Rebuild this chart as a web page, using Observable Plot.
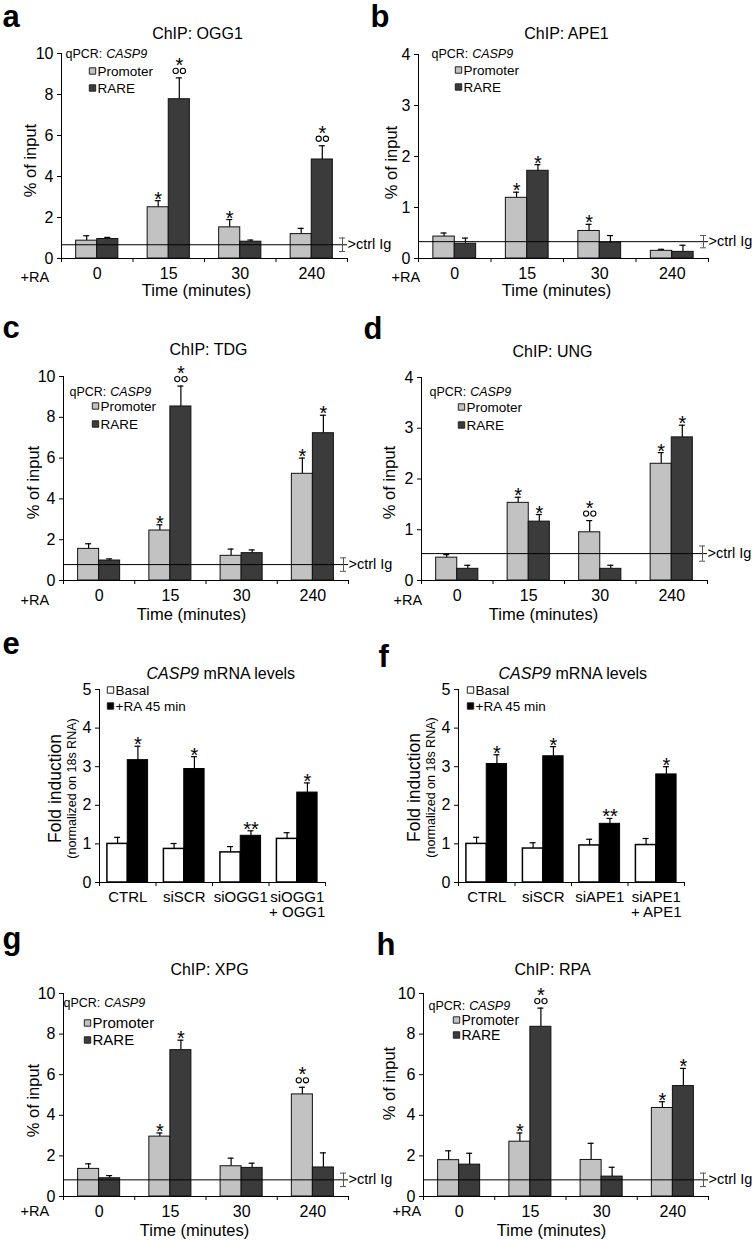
<!DOCTYPE html>
<html>
<head>
<meta charset="utf-8">
<script src="https://cdn.jsdelivr.net/npm/d3@7"></script>
<script src="https://cdn.jsdelivr.net/npm/@observablehq/plot@0.6"></script>
<style>
  html, body { margin: 0; padding: 0; background: #fff; }
  #fig { position: relative; width: 752px; height: 1240px; overflow: hidden; font-family: "Liberation Sans", Arial, sans-serif; }
  #fig svg { position: absolute; overflow: visible; }
  #fig svg g[aria-label^="x-axis"] text, #fig svg g[aria-label^="y-axis"] text { font-size: 16px; fill: black; }
  #fig svg.mrna g[aria-label^="x-axis"] text { font-size: 15px; }
</style>
</head>
<body>
<div id="fig"></div>
<script>
// ---------------- DATA ----------------
const chipGroups = ["0", "15", "30", "240"];

// a: ChIP OGG1
const oggPromoter = [0.87, 2.50, 1.52, 1.19];
const oggPromoterErr = [0.24, 0.32, 0.38, 0.28];
const oggRare = [0.95, 7.77, 0.82, 4.83];
const oggRareErr = [0.08, 1.04, 0.08, 0.67];
const oggPromoterSig = ["", "*", "*", ""];
const oggRareSig = ["", "*oo", "", "*oo"];
const oggCtrl = 0.67, oggCtrlErr = 0.33;

// b: ChIP APE1
const apePromoter = [0.43, 1.19, 0.54, 0.15];
const apePromoterErr = [0.07, 0.11, 0.13, 0.03];
const apeRare = [0.29, 1.72, 0.31, 0.13];
const apeRareErr = [0.11, 0.12, 0.14, 0.13];
const apePromoterSig = ["", "*", "*", ""];
const apeRareSig = ["", "*", "", ""];
const apeCtrl = 0.33, apeCtrlErr = 0.12;

// c: ChIP TDG
const tdgPromoter = [1.55, 2.45, 1.21, 5.23];
const tdgPromoterErr = [0.25, 0.28, 0.33, 0.77];
const tdgRare = [0.98, 8.53, 1.34, 7.22];
const tdgRareErr = [0.08, 1.00, 0.16, 0.88];
const tdgPromoterSig = ["", "*", "", "*"];
const tdgRareSig = ["", "*oo", "", "*"];
const tdgCtrl = 0.78, tdgCtrlErr = 0.33;

// d: ChIP UNG
const ungPromoter = [0.45, 1.53, 0.95, 2.30];
const ungPromoterErr = [0.06, 0.11, 0.23, 0.22];
const ungRare = [0.23, 1.16, 0.23, 2.82];
const ungRareErr = [0.07, 0.14, 0.07, 0.24];
const ungPromoterSig = ["", "*", "*oo", "*"];
const ungRareSig = ["", "*", "", "*"];
const ungCtrl = 0.53, ungCtrlErr = 0.15;

// e: CASP9 mRNA, OGG1 knockdown
const eGroups = ["CTRL", "siSCR", "siOGG1", "siOGG1\n+ OGG1"];
const eBasal = [1.00, 0.87, 0.78, 1.13];
const eBasalErr = [0.17, 0.14, 0.15, 0.16];
const eRA = [3.17, 2.94, 1.21, 2.33];
const eRAErr = [0.36, 0.32, 0.13, 0.25];
const eSig = ["*", "*", "**", "*"];

// f: CASP9 mRNA, APE1 knockdown
const fGroups = ["CTRL", "siSCR", "siAPE1", "siAPE1\n+ APE1"];
const fBasal = [1.00, 0.88, 0.96, 0.97];
const fBasalErr = [0.17, 0.15, 0.16, 0.17];
const fRA = [3.07, 3.27, 1.52, 2.80];
const fRAErr = [0.24, 0.25, 0.14, 0.20];
const fSig = ["*", "*", "**", "*"];

// g: ChIP XPG
const xpgPromoter = [1.36, 2.95, 1.49, 5.03];
const xpgPromoterErr = [0.25, 0.18, 0.40, 0.35];
const xpgRare = [0.90, 7.21, 1.41, 1.43];
const xpgRareErr = [0.13, 0.49, 0.23, 0.72];
const xpgPromoterSig = ["", "*", "", "*oo"];
const xpgRareSig = ["", "*", "", ""];
const xpgCtrl = 0.82, xpgCtrlErr = 0.33;

// h: ChIP RPA
const rpaPromoter = [1.79, 2.70, 1.80, 4.36];
const rpaPromoterErr = [0.46, 0.43, 0.82, 0.31];
const rpaRare = [1.57, 8.36, 0.98, 5.44];
const rpaRareErr = [0.56, 0.92, 0.46, 0.87];
const rpaPromoterSig = ["", "*", "", "*"];
const rpaRareSig = ["", "*oo", "", "*"];
const rpaCtrl = 0.82, rpaCtrlErr = 0.33;

// ---------------- STYLE ----------------
const FONT = "Liberation Sans, Arial, sans-serif";
const LIGHT = "#c2c2c2", DARK = "#3b3b3b";
const fig = document.getElementById("fig");

function prep(P) {
  P.ml = P.x0 - P.left;
  P.mt = P.yTop - P.top;
  return P;
}
// text at page coordinates, converted to frame offsets
function makeText(P, str, px, py, o = {}) {
  return Plot.text([str], {
    text: d => d, frameAnchor: "top-left",
    dx: px - P.left - P.ml, dy: py - P.top - P.mt,
    fontSize: 13, fill: "black", textAnchor: "start", lineAnchor: "bottom", ...o
  });
}
function makeSwatch(P, px, py, fill) {
  return Plot.dot([0], {
    frameAnchor: "top-left", dx: px - P.left - P.ml, dy: py - P.top - P.mt,
    symbol: "square", r: 3.6, fill, stroke: "#222", strokeWidth: 1
  });
}

function addPlot(P, marks, xFormat, yTicks, cls) {
  const width = 376, height = P.height;
  const plot = Plot.plot({
    width, height,
    marginLeft: P.ml, marginRight: width - (P.x1 - P.left),
    marginTop: P.mt, marginBottom: height - (P.y0 - P.top),
    style: {fontFamily: FONT, fontSize: "16px", color: "black", background: "transparent", overflow: "visible"},
    x: {type: "linear", domain: [0, 4], ticks: [0.5, 1.5, 2.5, 3.5], tickFormat: xFormat, tickSize: 0, tickPadding: 9, label: null, line: true},
    y: {domain: [0, P.ymax], ticks: yTicks, tickSize: 4, tickPadding: 4, label: null, line: true, tickFormat: d3.format("d")},
    marks
  });
  if (cls) plot.classList.add(cls);
  plot.style.left = P.left + "px";
  plot.style.top = P.top + "px";
  fig.appendChild(plot);
}

function chipPanel(P, D) {
  prep(P);
  const w = 0.295;
  const rows = chipGroups.map((g, i) => ({
    i, g,
    pv: D.promoter[i], pe: D.promoter[i] + D.promoterErr[i], ps: D.promoterSig[i],
    rv: D.rare[i], re: D.rare[i] + D.rareErr[i], rs: D.rareSig[i],
    pc: i + 0.5 - w / 2, rc: i + 0.5 + w / 2
  }));
  const sig = (xKey, topKey, sigKey) => {
    const oo = rows.filter(d => d[sigKey].includes("oo"));
    const st = rows.filter(d => !d[sigKey].includes("oo") && d[sigKey].includes("*"));
    return [
      Plot.dot(oo, {x: xKey, y: topKey, dx: -3.6, dy: -7, r: 2.6, stroke: "black", strokeWidth: 1.1, fill: "none"}),
      Plot.dot(oo, {x: xKey, y: topKey, dx: 3.6, dy: -7, r: 2.6, stroke: "black", strokeWidth: 1.1, fill: "none"}),
      Plot.text(oo, {x: xKey, y: topKey, text: () => "*", fontSize: 20, dy: -6, lineAnchor: "bottom", fill: "black"}),
      Plot.text(st, {x: xKey, y: topKey, text: d => d[sigKey], fontSize: 20, dy: 5, lineAnchor: "bottom", fill: "black"})
    ];
  };
  const ctrl = [{v: D.ctrl, lo: D.ctrl - D.ctrlErr, hi: D.ctrl + D.ctrlErr}];
  const marks = [
    Plot.ruleX(rows, {x: "pc", y1: "pv", y2: "pe", stroke: "black", strokeWidth: 1.2}),
    Plot.ruleX(rows, {x: "rc", y1: "rv", y2: "re", stroke: "black", strokeWidth: 1.2}),
    Plot.ruleY(rows, {y: "pe", x1: "pc", x2: "pc", insetLeft: -3, insetRight: -3, stroke: "black", strokeWidth: 1.2}),
    Plot.ruleY(rows, {y: "re", x1: "rc", x2: "rc", insetLeft: -3, insetRight: -3, stroke: "black", strokeWidth: 1.2}),
    Plot.rectY(rows, {x1: d => d.i + 0.5 - w, x2: d => d.i + 0.5, y: "pv", fill: LIGHT, stroke: "#111", strokeWidth: 1}),
    Plot.rectY(rows, {x1: d => d.i + 0.5, x2: d => d.i + 0.5 + w, y: "rv", fill: DARK, stroke: "#111", strokeWidth: 1}),
    Plot.ruleX([0, 1, 2, 3, 4], {x: d => d, y1: 0, y2: 0, insetBottom: -4, stroke: "black"}),
    Plot.ruleY(ctrl, {y: "v", stroke: "black", strokeWidth: 1}),
    Plot.ruleX(ctrl, {x: () => 4, y1: "lo", y2: "hi", dx: -5, stroke: "#555", strokeWidth: 1}),
    Plot.ruleY(ctrl, {y: "lo", x1: () => 4, x2: () => 4, dx: -5, insetLeft: -3, insetRight: -3, stroke: "#555"}),
    Plot.ruleY(ctrl, {y: "hi", x1: () => 4, x2: () => 4, dx: -5, insetLeft: -3, insetRight: -3, stroke: "#555"}),
    Plot.text(ctrl, {x: () => 4, y: "v", text: () => ">ctrl Ig", textAnchor: "start", dx: 0, fontSize: 14.5, fill: "black"}),
    ...sig("pc", "pe", "ps"),
    ...sig("rc", "re", "rs"),
    makeText(P, P.letter, P.letterX, P.letterY, {fontSize: 31, fontWeight: "bold"}),
    makeText(P, P.title, P.titleX, P.titleY, {fontSize: 16, textAnchor: "middle"}),
    makeText(P, "% of input", P.ylabX, P.ylabY, {fontSize: 16.5, textAnchor: "middle", lineAnchor: "middle", rotate: -90}),
    makeText(P, "Time (minutes)", P.xlabX, P.xlabY, {fontSize: 16.5, textAnchor: "middle"}),
    makeText(P, "+RA", P.raX, P.raY, {fontSize: 14.5}),
    makeText(P, "qPCR:", P.qX, P.qY, {fontSize: P.qFont}),
    makeText(P, "CASP9", P.qX + P.qFont * 3.25, P.qY, {fontSize: P.qFont, fontStyle: "italic"}),
    makeSwatch(P, P.swX, P.pY - 4.5, LIGHT),
    makeSwatch(P, P.swX, P.rY - 4.5, DARK),
    makeText(P, "Promoter", P.swX + 5, P.pY, {fontSize: P.lFont}),
    makeText(P, "RARE", P.swX + 5, P.rY, {fontSize: P.lFont})
  ];
  addPlot(P, marks, d => chipGroups[Math.floor(d)], P.ymax === 4 ? [0, 1, 2, 3, 4] : [0, 2, 4, 6, 8, 10]);
}

function mrnaPanel(P, groups, basal, basalErr, ra, raErr, sigs) {
  prep(P);
  const w = 0.36;
  const rows = groups.map((g, i) => ({
    i, bv: basal[i], be: basal[i] + basalErr[i], rv: ra[i], re: ra[i] + raErr[i], s: sigs[i],
    bc: i + 0.5 - w / 2, rc: i + 0.5 + w / 2
  }));
  const marks = [
    Plot.ruleX(rows, {x: "bc", y1: "bv", y2: "be", stroke: "black", strokeWidth: 1.2}),
    Plot.ruleX(rows, {x: "rc", y1: "rv", y2: "re", stroke: "black", strokeWidth: 1.2}),
    Plot.ruleY(rows, {y: "be", x1: "bc", x2: "bc", insetLeft: -3, insetRight: -3, stroke: "black", strokeWidth: 1.2}),
    Plot.ruleY(rows, {y: "re", x1: "rc", x2: "rc", insetLeft: -3, insetRight: -3, stroke: "black", strokeWidth: 1.2}),
    Plot.rectY(rows, {x1: d => d.i + 0.5 - w, x2: d => d.i + 0.5, y: "bv", fill: "white", stroke: "black", strokeWidth: 1.5}),
    Plot.rectY(rows, {x1: d => d.i + 0.5, x2: d => d.i + 0.5 + w, y: "rv", fill: "black", stroke: "black", strokeWidth: 1}),
    Plot.ruleX([0, 1, 2, 3, 4], {x: d => d, y1: 0, y2: 0, insetBottom: -4, stroke: "black"}),
    Plot.text(rows, {x: "rc", y: "re", text: "s", fontSize: 20, dy: 5, lineAnchor: "bottom", fill: "black"}),
    makeText(P, P.letter, P.letterX, P.letterY, {fontSize: 31, fontWeight: "bold"}),
    makeText(P, "CASP9", P.titleX, P.titleY, {fontSize: 16, fontStyle: "italic"}),
    makeText(P, "mRNA levels", P.titleX + 57, P.titleY, {fontSize: 16}),
    makeText(P, "Fold induction", P.ylabX, P.ylabY, {fontSize: 17.5, textAnchor: "middle", lineAnchor: "middle", rotate: -90}),
    makeText(P, "(normalized on 18s RNA)", P.ylab2X, P.ylabY, {fontSize: 12.5, textAnchor: "middle", lineAnchor: "middle", rotate: -90}),
    makeSwatch(P, P.swX, P.bY - 4.5, "white"),
    makeSwatch(P, P.swX, P.raY - 4.5, "black"),
    makeText(P, "Basal", P.swX + 5, P.bY, {fontSize: 13.5}),
    makeText(P, "+RA 45 min", P.swX + 5, P.raY, {fontSize: 13.5})
  ];
  addPlot(P, marks, d => groups[Math.floor(d)], [0, 1, 2, 3, 4, 5], "mrna");
}

// ---------------- PANELS ----------------
chipPanel({left: 0, top: 0, height: 300, x0: 61, x1: 347, yTop: 53, y0: 258, ymax: 10,
  letter: "a", letterX: 2, letterY: 26, title: "ChIP: OGG1", titleX: 197, titleY: 38,
  ylabX: 30, ylabY: 160, xlabX: 196, xlabY: 295, raX: 20, raY: 281,
  qX: 65, qY: 57, qFont: 12.5, swX: 92, pY: 75, rY: 92, lFont: 13.5},
  {promoter: oggPromoter, promoterErr: oggPromoterErr, rare: oggRare, rareErr: oggRareErr,
   promoterSig: oggPromoterSig, rareSig: oggRareSig, ctrl: oggCtrl, ctrlErr: oggCtrlErr});

chipPanel({left: 376, top: 0, height: 300, x0: 418, x1: 708, yTop: 54, y0: 258, ymax: 4,
  letter: "b", letterX: 370, letterY: 26, title: "ChIP: APE1", titleX: 566, titleY: 38,
  ylabX: 391, ylabY: 162, xlabX: 556, xlabY: 295, raX: 391, raY: 281,
  qX: 431, qY: 57, qFont: 12.5, swX: 458, pY: 74, rY: 91, lFont: 13.5},
  {promoter: apePromoter, promoterErr: apePromoterErr, rare: apeRare, rareErr: apeRareErr,
   promoterSig: apePromoterSig, rareSig: apeRareSig, ctrl: apeCtrl, ctrlErr: apeCtrlErr});

chipPanel({left: 0, top: 300, height: 325, x0: 63, x1: 348, yTop: 376, y0: 580, ymax: 10,
  letter: "c", letterX: 2, letterY: 337, title: "ChIP: TDG", titleX: 208, titleY: 354,
  ylabX: 33, ylabY: 482, xlabX: 191, xlabY: 619, raX: 20, raY: 604,
  qX: 69, qY: 395, qFont: 12.5, swX: 95, pY: 410, rY: 428, lFont: 13.5},
  {promoter: tdgPromoter, promoterErr: tdgPromoterErr, rare: tdgRare, rareErr: tdgRareErr,
   promoterSig: tdgPromoterSig, rareSig: tdgRareSig, ctrl: tdgCtrl, ctrlErr: tdgCtrlErr});

chipPanel({left: 376, top: 300, height: 325, x0: 421, x1: 707, yTop: 377, y0: 580, ymax: 4,
  letter: "d", letterX: 363, letterY: 338, title: "ChIP: UNG", titleX: 552, titleY: 356,
  ylabX: 389, ylabY: 482, xlabX: 543, xlabY: 619, raX: 393, raY: 604,
  qX: 429, qY: 395, qFont: 12.5, swX: 461, pY: 411, rY: 429, lFont: 13.5},
  {promoter: ungPromoter, promoterErr: ungPromoterErr, rare: ungRare, rareErr: ungRareErr,
   promoterSig: ungPromoterSig, rareSig: ungRareSig, ctrl: ungCtrl, ctrlErr: ungCtrlErr});

mrnaPanel({left: 0, top: 625, height: 295, x0: 99, x1: 325, yTop: 689, y0: 882, ymax: 5,
  letter: "e", letterX: 2, letterY: 653, titleX: 146, titleY: 678,
  ylabX: 55, ylab2X: 71, ylabY: 788, swX: 110, bY: 694, raY: 710}, eGroups, eBasal, eBasalErr, eRA, eRAErr, eSig);

mrnaPanel({left: 376, top: 625, height: 295, x0: 458, x1: 684, yTop: 689, y0: 882, ymax: 5,
  letter: "f", letterX: 378, letterY: 666, titleX: 498, titleY: 678,
  ylabX: 414, ylab2X: 430, ylabY: 787, swX: 470, bY: 694, raY: 710}, fGroups, fBasal, fBasalErr, fRA, fRAErr, fSig);

chipPanel({left: 0, top: 920, height: 320, x0: 63, x1: 348, yTop: 993, y0: 1196, ymax: 10,
  letter: "g", letterX: 2, letterY: 948, title: "ChIP: XPG", titleX: 209, titleY: 974,
  ylabX: 33, ylabY: 1100, xlabX: 194, xlabY: 1235, raX: 20, raY: 1215,
  qX: 63, qY: 1006, qFont: 12.5, swX: 87, pY: 1027, rY: 1044, lFont: 15},
  {promoter: xpgPromoter, promoterErr: xpgPromoterErr, rare: xpgRare, rareErr: xpgRareErr,
   promoterSig: xpgPromoterSig, rareSig: xpgRareSig, ctrl: xpgCtrl, ctrlErr: xpgCtrlErr});

chipPanel({left: 376, top: 920, height: 320, x0: 423, x1: 708, yTop: 993, y0: 1196, ymax: 10,
  letter: "h", letterX: 376, letterY: 954, title: "ChIP: RPA", titleX: 552, titleY: 974,
  ylabX: 389, ylabY: 1083, xlabX: 551, xlabY: 1235, raX: 392, raY: 1215,
  qX: 428, qY: 1009, qFont: 12.5, swX: 456, pY: 1024, rY: 1039, lFont: 14},
  {promoter: rpaPromoter, promoterErr: rpaPromoterErr, rare: rpaRare, rareErr: rpaRareErr,
   promoterSig: rpaPromoterSig, rareSig: rpaRareSig, ctrl: rpaCtrl, ctrlErr: rpaCtrlErr});
</script>
</body>
</html>
